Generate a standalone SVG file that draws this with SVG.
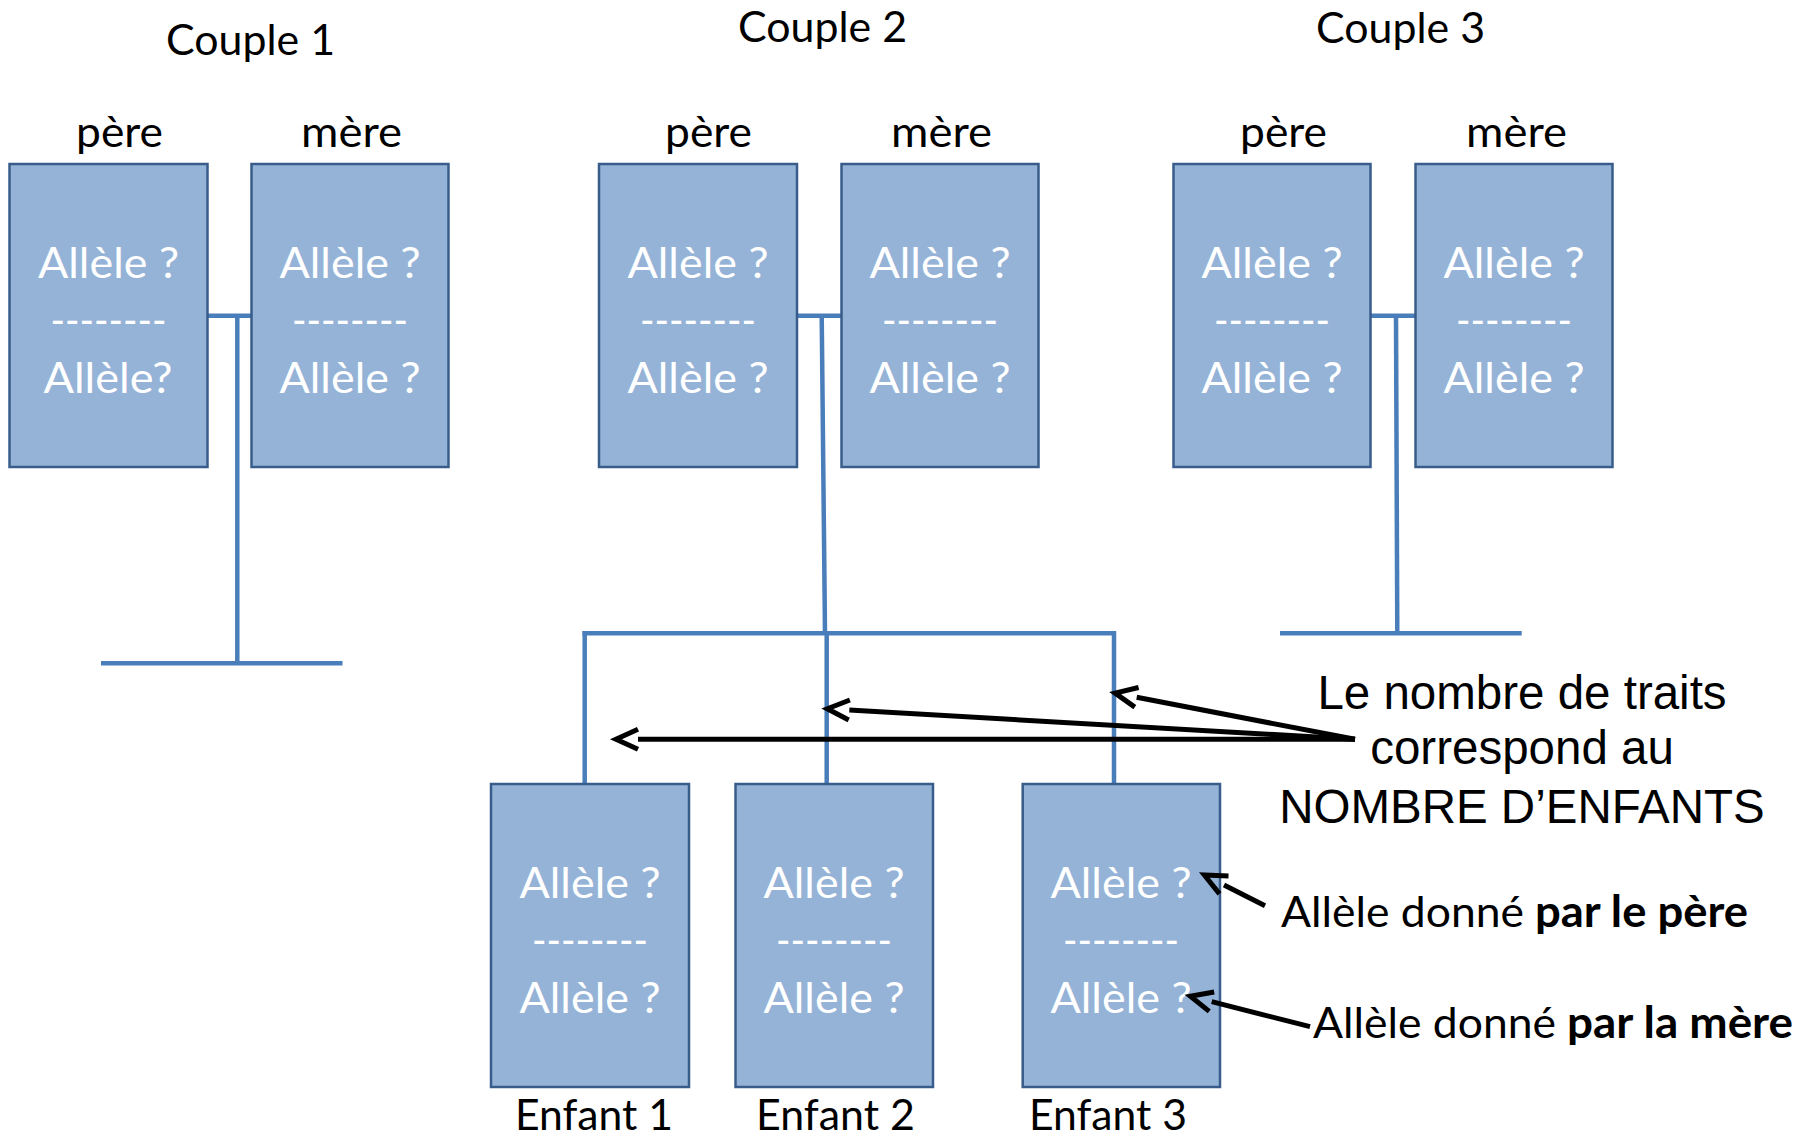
<svg xmlns="http://www.w3.org/2000/svg" width="1802" height="1139" viewBox="0 0 1802 1139">
<style>
.bg{fill:#ffffff}
.box{fill:#95B3D7;stroke:#385D8A;stroke-width:2.5}
.al{font-family:Lato,"Open Sans","Noto Sans",sans-serif;font-size:43px;fill:#ffffff;text-anchor:middle}
.lbl{font-family:Lato,"Open Sans","Noto Sans",sans-serif;font-size:43px;fill:#000000}
.bold{font-weight:bold}
.note{font-family:"Liberation Sans",Arial,sans-serif;font-size:47.5px;fill:#000000;text-anchor:middle}
.conn{stroke:#4A7EBB;stroke-width:4.5;fill:none}
.arr{stroke:#000000;stroke-width:5;fill:none;marker-end:url(#vhead)}
</style>
<defs>
<marker id="vhead" markerUnits="userSpaceOnUse" viewBox="-5 -15 40 30" markerWidth="40" markerHeight="30" refX="0" refY="0" orient="auto" overflow="visible">
<path d="M0,-10 L22,0 L0,10" fill="none" stroke="#000000" stroke-width="5" stroke-linejoin="miter"/>
</marker>
</defs>
<rect class="bg" x="0" y="0" width="1802" height="1139"/>

<g id="headers">
<text class="lbl" x="166" y="55" textLength="169" lengthAdjust="spacingAndGlyphs">Couple 1</text>
<text class="lbl" x="738" y="42" textLength="169" lengthAdjust="spacingAndGlyphs">Couple 2</text>
<text class="lbl" x="1316" y="43" textLength="169" lengthAdjust="spacingAndGlyphs">Couple 3</text>
<text class="lbl" x="76" y="147" textLength="87" lengthAdjust="spacingAndGlyphs">père</text>
<text class="lbl" x="301" y="147" textLength="101" lengthAdjust="spacingAndGlyphs">mère</text>
<text class="lbl" x="665" y="147" textLength="87" lengthAdjust="spacingAndGlyphs">père</text>
<text class="lbl" x="891" y="147" textLength="101" lengthAdjust="spacingAndGlyphs">mère</text>
<text class="lbl" x="1240" y="147" textLength="87" lengthAdjust="spacingAndGlyphs">père</text>
<text class="lbl" x="1466" y="147" textLength="101" lengthAdjust="spacingAndGlyphs">mère</text>
</g>

<g id="connectors">
<line class="conn" x1="207" y1="315.7" x2="252" y2="315.7"/>
<line class="conn" x1="237.3" y1="315.7" x2="237.3" y2="663.3"/>
<line class="conn" x1="101" y1="663.3" x2="342.5" y2="663.3"/>
<line class="conn" x1="797" y1="315.7" x2="842" y2="315.7"/>
<line class="conn" x1="821.7" y1="315.7" x2="825" y2="633.3"/>
<line class="conn" x1="582.5" y1="633.3" x2="1116" y2="633.3"/>
<line class="conn" x1="584.7" y1="631" x2="584.7" y2="784"/>
<line class="conn" x1="826.7" y1="633.3" x2="826.7" y2="784"/>
<line class="conn" x1="1114" y1="631" x2="1114" y2="784"/>
<line class="conn" x1="1370" y1="315.7" x2="1416" y2="315.7"/>
<line class="conn" x1="1396" y1="315.7" x2="1397.3" y2="633.3"/>
<line class="conn" x1="1280" y1="633.3" x2="1521.7" y2="633.3"/>
</g>

<g id="c1-pere">
<rect class="box" x="9.5" y="164" width="198" height="303"/>
<text class="al" x="108.5" y="278" textLength="141" lengthAdjust="spacingAndGlyphs">Allèle ?</text>
<text class="al" x="108.5" y="335" textLength="116" lengthAdjust="spacingAndGlyphs">--------</text>
<text class="al" x="108" y="393" textLength="129" lengthAdjust="spacingAndGlyphs">Allèle?</text>
</g>
<g id="c1-mere">
<rect class="box" x="251.5" y="164" width="197" height="303"/>
<text class="al" x="350" y="278" textLength="141" lengthAdjust="spacingAndGlyphs">Allèle ?</text>
<text class="al" x="350" y="335" textLength="116" lengthAdjust="spacingAndGlyphs">--------</text>
<text class="al" x="350" y="393" textLength="141" lengthAdjust="spacingAndGlyphs">Allèle ?</text>
</g>
<g id="c2-pere">
<rect class="box" x="599" y="164" width="198" height="303"/>
<text class="al" x="698" y="278" textLength="141" lengthAdjust="spacingAndGlyphs">Allèle ?</text>
<text class="al" x="698" y="335" textLength="116" lengthAdjust="spacingAndGlyphs">--------</text>
<text class="al" x="698" y="393" textLength="141" lengthAdjust="spacingAndGlyphs">Allèle ?</text>
</g>
<g id="c2-mere">
<rect class="box" x="841.5" y="164" width="197" height="303"/>
<text class="al" x="940" y="278" textLength="141" lengthAdjust="spacingAndGlyphs">Allèle ?</text>
<text class="al" x="940" y="335" textLength="116" lengthAdjust="spacingAndGlyphs">--------</text>
<text class="al" x="940" y="393" textLength="141" lengthAdjust="spacingAndGlyphs">Allèle ?</text>
</g>
<g id="c3-pere">
<rect class="box" x="1173.5" y="164" width="197" height="303"/>
<text class="al" x="1272" y="278" textLength="141" lengthAdjust="spacingAndGlyphs">Allèle ?</text>
<text class="al" x="1272" y="335" textLength="116" lengthAdjust="spacingAndGlyphs">--------</text>
<text class="al" x="1272" y="393" textLength="141" lengthAdjust="spacingAndGlyphs">Allèle ?</text>
</g>
<g id="c3-mere">
<rect class="box" x="1415.5" y="164" width="197" height="303"/>
<text class="al" x="1514" y="278" textLength="141" lengthAdjust="spacingAndGlyphs">Allèle ?</text>
<text class="al" x="1514" y="335" textLength="116" lengthAdjust="spacingAndGlyphs">--------</text>
<text class="al" x="1514" y="393" textLength="141" lengthAdjust="spacingAndGlyphs">Allèle ?</text>
</g>

<g id="enfant1">
<rect class="box" x="491" y="784" width="198" height="303"/>
<text class="al" x="590" y="898" textLength="141" lengthAdjust="spacingAndGlyphs">Allèle ?</text>
<text class="al" x="590" y="955" textLength="116" lengthAdjust="spacingAndGlyphs">--------</text>
<text class="al" x="590" y="1013" textLength="141" lengthAdjust="spacingAndGlyphs">Allèle ?</text>
<text class="lbl" x="515" y="1130" textLength="158" lengthAdjust="spacingAndGlyphs">Enfant 1</text>
</g>
<g id="enfant2">
<rect class="box" x="735.5" y="784" width="197.5" height="303"/>
<text class="al" x="834" y="898" textLength="141" lengthAdjust="spacingAndGlyphs">Allèle ?</text>
<text class="al" x="834" y="955" textLength="116" lengthAdjust="spacingAndGlyphs">--------</text>
<text class="al" x="834" y="1013" textLength="141" lengthAdjust="spacingAndGlyphs">Allèle ?</text>
<text class="lbl" x="756" y="1130" textLength="159" lengthAdjust="spacingAndGlyphs">Enfant 2</text>
</g>
<g id="enfant3">
<rect class="box" x="1022.7" y="784" width="197.3" height="303"/>
<text class="al" x="1121" y="898" textLength="141" lengthAdjust="spacingAndGlyphs">Allèle ?</text>
<text class="al" x="1121" y="955" textLength="116" lengthAdjust="spacingAndGlyphs">--------</text>
<text class="al" x="1121" y="1013" textLength="141" lengthAdjust="spacingAndGlyphs">Allèle ?</text>
<text class="lbl" x="1029" y="1130" textLength="158" lengthAdjust="spacingAndGlyphs">Enfant 3</text>
</g>

<g id="arrows">
<path class="arr" d="M1355,739.3 L638,739.3"/>
<path class="arr" d="M1355,739.3 L849.3,710"/>
<path class="arr" d="M1355,739.3 L1136.7,697.3"/>
<path class="arr" d="M1265,905.7 L1224,885"/>
<path class="arr" d="M1310,1026.7 L1211.7,1001.7"/>
</g>

<g id="note-enfants">
<text class="note" x="1522" y="708.5">Le nombre de traits</text>
<text class="note" x="1522" y="764">correspond au</text>
<text class="note" x="1522" y="823.3">NOMBRE D’ENFANTS</text>
</g>
<g id="note-pere">
<text class="lbl" x="1281" y="926.7" textLength="243" lengthAdjust="spacingAndGlyphs">Allèle donné</text>
<text class="lbl bold" x="1535" y="926.7" textLength="213" lengthAdjust="spacingAndGlyphs">par le père</text>
</g>
<g id="note-mere">
<text class="lbl" x="1313" y="1038.3" textLength="243" lengthAdjust="spacingAndGlyphs">Allèle donné</text>
<text class="lbl bold" x="1567" y="1038.3" textLength="226" lengthAdjust="spacingAndGlyphs">par la mère</text>
</g>
</svg>
